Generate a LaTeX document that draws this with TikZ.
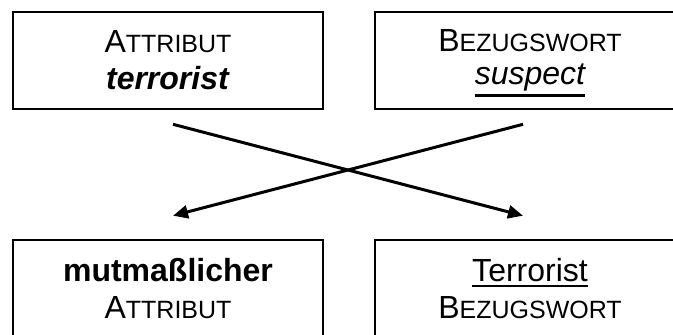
\documentclass[tikz,border=0pt]{standalone}
\usepackage{fontspec}
\setmainfont{Liberation Sans}
\usetikzlibrary{positioning, arrows.meta}
\tikzstyle{wbox}=[draw,line width=2.6pt,minimum width=310pt,minimum height=97pt,inner sep=0pt,align=center,font=\fontsize{32}{37}\selectfont]
\tikzstyle{xarr}=[line width=3pt,-{Triangle[length=15pt,width=13pt]}]
\newcommand\smc[2]{#1{\fontsize{25}{37}\selectfont #2}}
\newcommand\ulw[2]{\setbox0\hbox{#2}\leavevmode\rlap{\smash{\rule[-#1]{\wd0}{2.2pt}}}\box0}

\begin{document}
\begin{tikzpicture}[x=1pt,y=-1pt]
\useasboundingbox (0,0) rectangle (673,335);
\clip (0,0) rectangle (673,335);
% upper row
\node[wbox] (attr) at (168,60.5) {\smc{A}{TTRIBUT}\\\textbf{\textit{terrorist}}};
\node[wbox] (bezug) at (530,60.5) {\smc{B}{EZUGSWORT}\\[-4pt]\textit{\ulw{12pt}{suspect}}};
% lower row
\node[wbox] (mutm) at (168,288.5) {\textbf{mutmaßlicher}\\\smc{A}{TTRIBUT}};
\node[wbox] (terr) at (530,288.5) {\ulw{6pt}{Terrorist}\\\smc{B}{EZUGSWORT}};
% crossing arrows
\coordinate (a1) at ([shift={(5pt,-14pt)}]attr.south);
\coordinate (a2) at ([shift={(-7pt,-14pt)}]bezug.south);
\coordinate (b1) at ([shift={(5pt,23pt)}]mutm.north);
\coordinate (b2) at ([shift={(-7pt,23pt)}]terr.north);
\draw[xarr] (a1) -- (b2);
\draw[xarr] (a2) -- (b1);
\end{tikzpicture}
\end{document}
